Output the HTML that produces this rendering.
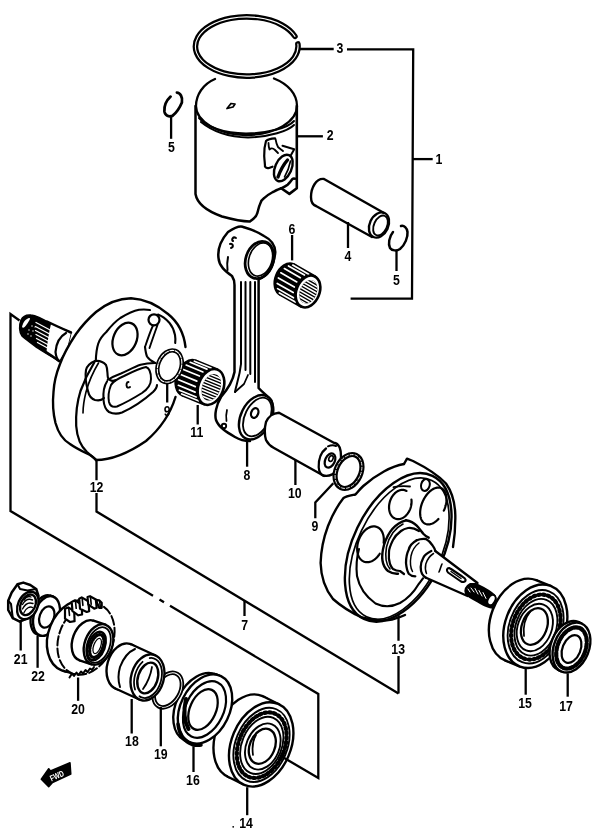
<!DOCTYPE html>
<html><head><meta charset="utf-8"><style>
html,body{margin:0;padding:0;background:#fff;width:600px;height:836px;overflow:hidden}
svg{display:block}
text{font-family:"Liberation Sans",sans-serif;font-weight:bold;font-size:15px;fill:#000}
</style></head><body>
<svg width="600" height="836" viewBox="0 0 600 836">
<g id="crankL" fill="none" stroke="#000" stroke-width="2.25" stroke-linecap="round" stroke-linejoin="round">
<!-- shaft -->
<path d="M21 320C23 316 27 314.5 31 315C37 315.5 43 319 50 323.5C56 326 62 329 71 332.5L67 349L59 361C52 357 45 353 37.5 348C33 344 26 340 22 336C19 332 19 325 21 320Z" fill="#000" stroke-width="1.50"/>
<path d="M36 322.5L52 331M35.5 326.5L52 335.3M35.5 330.5L51 338.7M36 334.5L50 342M36.5 338.5L49 345.2M37.5 342.5L47.5 348" stroke="#fff" stroke-width="1.3"/>
<path d="M51 324C56 326 62 329 71 332.5L67 349L59 361C53 357 49 354.5 46.5 353C47 345 49 332 51 324Z" fill="#fff" stroke="none"/>
<path d="M47 321.5C53 324.5 62 328.5 71 332.5M46 352C51 355 55 358 59 361" stroke-width="2.50"/>
<path d="M66 333C59 337 56 345 55.5 352C56 357 57 359 59 361" stroke-width="2.25"/>
<path d="M22 327C23 322 26 318.5 29.5 318C31 318 29 321 27 324C25 327 23 329 22 327Z" fill="#fff" stroke="none"/>

<g fill="#fff" stroke="none">
<circle cx="29" cy="330" r="0.7"/><circle cx="32" cy="326" r="0.7"/><circle cx="28" cy="334" r="0.7"/><circle cx="33" cy="331" r="0.7"/><circle cx="31" cy="336" r="0.7"/><circle cx="35" cy="327" r="0.6"/>
</g>
<!-- disk outer -->
<path d="M185.5 347C184 334 178 322 168 314C156 304 144 299 131 298.3C118 298.5 106 304 96 312C88 319 81 327 76 334C70 343 64 353 60 364C56 374 54 382 53.5 392C52.5 402 53 413 55.5 423C58 432 63 440 70 444C77 449 84 452 90 455C93 457 95 458.5 96 460" stroke-width="2.38"/>
<path d="M96 460C112 460 130 452 146 441C160 429 170 415 175.5 397" stroke-width="2.38"/>
<path d="M94.5 362C89 371 84.5 380 80.5 391C77 402 75.7 414 76.2 426C77 437 80.5 446 87 452C90.5 455 94 458 96 460" stroke-width="2.25"/>
<path d="M98.5 363C93 372 89 381 86 392C84 400 83 407 83 413" stroke-width="1.62"/>
<!-- web boundary -->
<path d="M95.8 361C96 354 96.5 349 98.2 343.7C100 338 103 335 106.3 332C111 326 116 321 120.3 318C127 314 133 311 139 309.8C143 309.3 147 309.5 150 310" stroke-width="2.12"/>
<path d="M158 314.5C162 316 166 319 169.3 322.7C172 326 174 330 175 335C175.5 338 175.5 341 175.2 343" stroke-width="2.12"/>
<ellipse cx="125" cy="339" rx="11.6" ry="17" transform="rotate(23 125 339)" stroke-width="2.25"/>
<circle cx="154" cy="319.8" r="5.5" stroke-width="2.25"/>
<path d="M153 325.5C150 332 148 338 145 347M157.5 325C155 332 152.5 339 149.5 348" stroke-width="1.88"/>
<path d="M145 347C145.5 351 146 354 147 356.5C149 359.5 152 361.5 155.2 363" stroke-width="2.1"/>
<!-- left blob -->
<path d="M95 361C99 360.5 103 361.5 106 365C108 369 107 374 108 378C110 381 112 382 116 380" stroke-width="2.12"/>
<path d="M95 361C90 363 87 366 86 370C85 376 86 384 88 391C89 396 92 399 95 400C99 401 102 400 104 398" stroke-width="2.12"/>
<!-- slot -->
<path d="M107 381.5C104 386 103 393 103.5 400C104 406 106 410 109 412C113 414 118 414 122 412.5C132 408 143 401 153 392C156 389 157 387 157 385" stroke-width="2.12"/>
<path d="M107.5 380C112 377 117 375 121 373.5C128 370.5 134 367 140.5 364.8C145 363.5 149 363 155 363" stroke-width="2.00"/>
<path d="M111 385C109 390 108 397 109 402C110 406 113 407.5 117 406.5C125 403 134 398 142 393C148 389 151 385 151 379C151 373 149 368 146 367C140 368 132 372 124 376C117 379 113 381 111 385Z" stroke-width="2.00"/>
<path d="M128.5 382C126.5 382 126 385 127 387C128 388 129.5 387.5 130 387" stroke-width="1.88"/>
</g>
<g id="top" fill="none" stroke="#000" stroke-width="2.25" stroke-linecap="round" stroke-linejoin="round">
<!-- ring 3 -->
<path d="M294.96 36.38A51.3 29.6 0 1 0 297.85 43.92" stroke-width="5.6"/>
<path d="M294.96 36.38A51.3 29.6 0 1 0 297.85 43.92" stroke="#fff" stroke-width="1.1"/>
<!-- circlip 5 left -->
<path d="M170.6 96.6C167 100 164 106 164.4 111.4C165 116 169 117 172.4 115.9C176 113 180 107 181.9 102.4C183 97 180 92.6 176.9 92.6" stroke-width="2.75"/>
<!-- piston 2 -->
<path d="M215 79C203 84 196 95 196 106C196 121 218 135 246 135C276 135 297 121 297 106C297 94 288 84 274 78.5"/>
<path d="M199 118C208 128 226 133 246 133.5C268 133 288 128 294 121" stroke-width="2.00"/>
<path d="M201 122C212 131 228 137 248 137.5C270 137 288 131 294 125" stroke-width="2.00"/>
<path d="M195.5 106V194C197 203 204 210 222 216.5C233 219.5 243 221.5 250 221.4C254 219 256.5 216 257.3 213.1C258.5 209 259 206 260.1 204C261 201 262 199.5 263.8 198.4C267 195.5 270 193.5 272.9 192C276 190.5 279 189 281.2 188.3C284 187 286 186 287.6 184.7C289.5 183 291 181 292.2 179.2C293 178.5 294 178.5 295 178.7" stroke-width="2.5"/>
<path d="M296.8 106V188.3L289.4 193.9L281.2 188.3" stroke-width="2.6"/>
<path d="M227 108.5L231 103.5L235 104L233 107Z" stroke-width="1.75"/>
<!-- pin boss -->
<path d="M275 138.3C271 138.5 268 139 266 141C264.5 146 264 151 264.2 156C264.5 161 265 164 265 166.7C266 168 267.5 168.5 269 168L272.5 166.7" stroke-width="2.2"/>
<path d="M268.5 143C268.5 146 269 148 269.5 149.5C271 148 273 148 275 150L278 153M275.5 139C276 142 277 145 278 147C280 149 282 150 283 151" stroke-width="1.8"/>
<path d="M282.5 145.8L294.2 149.2L291 155" stroke-width="2"/>
<ellipse cx="283.3" cy="168" rx="8.2" ry="14" transform="rotate(24 283.3 168)" fill="#fff" stroke-width="2.4"/>
<path d="M287.5 160C284 164 280.5 170 278 177" stroke-width="3.4"/>
<path d="M290.5 161C289.5 166 287.5 172 284.5 177" stroke-width="1.6"/>
<!-- pin 4 -->
<path d="M324 179L384 213M316 206L372 237M324 179C316 178 311 188 311 197C311 202 313 205 316 206" stroke-width="2.38"/>
<ellipse cx="379" cy="225" rx="9.3" ry="13.2" transform="rotate(25 379 225)" stroke-width="2.38"/>
<ellipse cx="380.5" cy="225.5" rx="6.5" ry="10.5" transform="rotate(25 380.5 225.5)" stroke-width="1.88"/>
<!-- circlip 5 right -->
<path d="M393 232C389 237 388 244 390 248C392 251 397 251 400 249C405 245 408 237 407.5 232C407 228 404 225 401 226" stroke-width="2.50"/>
</g>
<g id="rod" fill="none" stroke="#000" stroke-width="2.38" stroke-linecap="round" stroke-linejoin="round">
<!-- conrod 8 -->
<path d="M259 279C268 276 274 266 275.3 252C275 244 270 239 264 236C258 232 250 229 244 227.3C240 225 234 228 228 232C221 240 217.5 250 218.5 258C219 266 225 271 232 276C234 279 234.5 282 234.5 285V372C233 380 227 390 221 397C216 405 214.5 415 216 420C219 428 228 433 235 437C240 440 245 441 250 441" stroke-width="2.50"/>
<path d="M258.6 279V388C262 392 268 396 271 400C273 405 273 410 272.5 413" stroke-width="2.50"/>
<ellipse cx="259.5" cy="260" rx="13.8" ry="19" transform="rotate(18 259.5 260)" stroke-width="2.75"/>
<ellipse cx="260.5" cy="259.5" rx="11.5" ry="17" transform="rotate(18 260.5 259.5)" stroke-width="1.62"/>
<path d="M236 238C233 236 231 240 233 241M230 244C233 243 234 247 231 248" stroke-width="2.00"/>
<path d="M228 257C227 262 227 266 227.5 270" stroke-width="2.00"/>
<path d="M241 282V364C239.5 378 236 385 235 392M245.5 282V370M250.3 282V374M255 282V382" stroke-width="2.00"/>
<path d="M235 392L244 384L248 375" stroke-width="1.75"/>
<ellipse cx="256.1" cy="417.3" rx="15.2" ry="23.6" transform="rotate(26.5 256.1 417.3)" fill="#fff" stroke-width="2.4"/>
<ellipse cx="257.3" cy="417" rx="12.3" ry="20.6" transform="rotate(26.5 257.3 417)" stroke-width="1.8"/>
<ellipse cx="254.7" cy="413" rx="3.5" ry="5" transform="rotate(20 254.7 413)" stroke-width="2.25"/>
<circle cx="224" cy="426" r="2.2" stroke-width="1.88"/>
<path d="M227 410C226 414 226 418 226.5 421" stroke-width="1.75"/>
</g>
<g id="nb" fill="none" stroke="#000" stroke-linecap="round" stroke-linejoin="round">
<ellipse cx="287.00" cy="279.50" rx="11.50" ry="16.50" transform="rotate(22.00 287.00 279.50)" fill="#000" stroke-width="2.6"/>
<path d="M300.83 306.32L315.17 276.68L294.17 264.68L279.83 294.32Z" fill="#000" stroke="#000" stroke-width="2.6"/>
<path d="M295.32 302.02L279.36 292.90M293.55 297.74L277.59 288.62M293.21 292.53L277.25 283.41M294.34 287.03L278.38 277.91M296.81 281.89L280.85 272.77M300.32 277.73L284.36 268.61M304.45 275.05L288.49 265.93M308.70 274.17L292.74 265.05" stroke="#fff" stroke-width="1.7" stroke-linecap="round"/>
<ellipse cx="308.00" cy="291.50" rx="11.50" ry="16.50" transform="rotate(22.00 308.00 291.50)" fill="#fff" stroke-width="2.6"/>
<clipPath id="clip308291"><ellipse cx="308.30" cy="291.80" rx="8.51" ry="12.21" transform="rotate(22.00 308.30 291.80)" /></clipPath>
<ellipse cx="308.30" cy="291.80" rx="8.51" ry="12.21" transform="rotate(22.00 308.30 291.80)" fill="#000" stroke="none"/>
<path clip-path="url(#clip308291)" d="M324.28 324.31L272.18 294.54M325.71 321.79L273.62 292.02M327.15 319.27L275.06 289.51M328.59 316.76L276.50 286.99M330.03 314.24L277.94 284.47M331.47 311.72L279.38 281.95M332.91 309.20L280.81 279.43M334.35 306.68L282.25 276.92M335.79 304.17L283.69 274.40M337.22 301.65L285.13 271.88M338.66 299.13L286.57 269.36M340.10 296.61L288.01 266.84M341.54 294.09L289.45 264.33M342.98 291.58L290.89 261.81M344.42 289.06L292.32 259.29" stroke="#fff" stroke-width="1.53"/>
<ellipse cx="189.00" cy="378.00" rx="12.50" ry="18.50" transform="rotate(20.00 189.00 378.00)" fill="#000" stroke-width="2.6"/>
<path d="M204.35 404.26L217.65 369.74L195.65 360.74L182.35 395.26Z" fill="#000" stroke="#000" stroke-width="2.6"/>
<path d="M198.40 400.80L181.68 393.96M196.15 397.01L179.43 390.17M195.09 392.14L178.37 385.30M195.31 386.66L178.59 379.82M196.81 381.12L180.09 374.28M199.43 376.03L182.71 369.19M202.92 371.92L186.20 365.08M206.94 369.16L190.22 362.32M211.10 368.04L194.38 361.20" stroke="#fff" stroke-width="1.7" stroke-linecap="round"/>
<ellipse cx="211.00" cy="387.00" rx="12.50" ry="18.50" transform="rotate(20.00 211.00 387.00)" fill="#fff" stroke-width="2.6"/>
<clipPath id="clip211387"><ellipse cx="211.30" cy="387.30" rx="9.25" ry="13.69" transform="rotate(20.00 211.30 387.30)" /></clipPath>
<ellipse cx="211.30" cy="387.30" rx="9.25" ry="13.69" transform="rotate(20.00 211.30 387.30)" fill="#000" stroke="none"/>
<path clip-path="url(#clip211387)" d="M231.38 417.45L175.85 394.73M232.48 414.76L176.95 392.05M233.58 412.08L178.04 389.36M234.67 409.40L179.14 386.68M235.77 406.71L180.24 383.99M236.87 404.03L181.34 381.31M237.97 401.34L182.44 378.63M239.07 398.66L183.53 375.94M240.16 395.97L184.63 373.26M241.26 393.29L185.73 370.57M242.36 390.61L186.83 367.89M243.46 387.92L187.93 365.20M244.56 385.24L189.02 362.52M245.65 382.55L190.12 359.84M246.75 379.87L191.22 357.15" stroke="#fff" stroke-width="1.53"/>
</g>
<g id="crankR" fill="none" stroke="#000" stroke-width="2.25" stroke-linecap="round" stroke-linejoin="round">
<!-- outer -->
<path d="M404 464C392 466 376 474.5 363.3 486C359 490 357 493 355.3 494.5C350 495.5 346 496 343.5 498C338 505 333 513 328 526C323.5 538 321 550 320.6 563C321 577 325 589 333 599C342 607 352 613 362 617.5C372 620.5 382 621.5 392 619.5C398 618 402 616.5 405 615" stroke-width="2.38"/>
<path d="M404 464L407 458.7L413 461C425 467 438 475 446 483.5C452 492 455 503 455.3 515C455.5 527 454.5 538 453 547" stroke-width="2.38"/>
<!-- face double -->
<ellipse cx="398.2" cy="547.4" rx="45.3" ry="79.3" transform="rotate(25.6 398.2 547.4)" stroke-width="2.4"/>
<ellipse cx="399.2" cy="548.6" rx="41.8" ry="75.6" transform="rotate(25.6 399.2 548.6)" stroke-width="1.7"/>
<!-- recess -->
<path d="M359 549C356.5 558 356 567 357 576C359 586 365 596 375.5 603.5C383 607 392 607 400 603C408 598.5 414 592 418.7 584C421 581 423 578.5 424.2 576.7" stroke-width="2.12"/>
<path d="M393.5 487.2C399 486 405 486 410 486.5" stroke-width="1.88"/>
<!-- holes -->
<path d="M411.44 499.53L411.51 500.26L411.56 501.00L411.57 501.75L411.55 502.50L411.50 503.27L411.42 504.03L411.31 504.80L411.17 505.56L411.00 506.33L410.80 507.09L410.57 507.84L410.31 508.58L410.03 509.31L409.72 510.03L409.38 510.73L409.02 511.42L408.64 512.08L408.23 512.73L407.80 513.35L407.35 513.95L406.88 514.52L406.39 515.07L405.89 515.59L405.37 516.07L404.83 516.53L404.29 516.95L403.73 517.33L403.16 517.69L402.59 518.00L402.01 518.28L401.42 518.52L400.83 518.73L400.24 518.89L399.65 519.01L399.07 519.10L398.48 519.14L397.90 519.15L397.33 519.11L396.76 519.04L396.21 518.92L395.66 518.77L395.13 518.57L394.62 518.34L394.12 518.07L393.63 517.76L393.16 517.42L392.72 517.04L392.29 516.62L391.89 516.18L391.51 515.70L391.15 515.19L390.82 514.65L390.51 514.08L390.23 513.49L389.98 512.87L389.76 512.23L389.57 511.57L389.40 510.88L389.27 510.19L389.16 509.47L389.09 508.74L389.04 508.00L389.03 507.25L389.05 506.50L389.10 505.73L389.18 504.97L389.29 504.20L389.43 503.44L389.60 502.67L389.80 501.91L390.03 501.16L390.29 500.42L390.57 499.69L390.88 498.97L391.22 498.27L391.58 497.58L391.96 496.92L392.37 496.27L392.80 495.65L393.25 495.05L393.72 494.48L394.21 493.93L394.71 493.41L395.23 492.93L395.77 492.47L396.31 492.05L396.87 491.67L397.44 491.31L398.01 491.00L398.59 490.72L399.18 490.48L399.77 490.27L400.36 490.11L400.95 489.99L401.53 489.90L402.12 489.86L402.70 489.85L403.27 489.89L403.84 489.96L404.39 490.08L404.94 490.23L405.47 490.43L405.98 490.66L406.48 490.93" stroke-width="2.2"/>
<path d="M438.43 518.96L437.79 519.63L437.14 520.26L436.47 520.85L435.80 521.40L435.12 521.90L434.44 522.37L433.75 522.79L433.06 523.16L432.37 523.49L431.68 523.77L431.00 524.00L430.33 524.18L429.66 524.31L429.00 524.39L428.36 524.42L427.73 524.40L427.11 524.33L426.51 524.21L425.93 524.03L425.37 523.81L424.83 523.54L424.31 523.23L423.82 522.86L423.36 522.45L422.92 522.00L422.51 521.50L422.13 520.95L421.78 520.37L421.46 519.75L421.18 519.09L420.93 518.39L420.71 517.66L420.52 516.90L420.38 516.11L420.26 515.29L420.19 514.44L420.14 513.58L420.14 512.69L420.17 511.78L420.24 510.86L420.34 509.92L420.48 508.97L420.65 508.02L420.86 507.06L421.10 506.09L421.37 505.13L421.68 504.17L422.02 503.21L422.39 502.26L422.79 501.32L423.22 500.40L423.68 499.49L424.16 498.59L424.67 497.72L425.20 496.87L425.76 496.05L426.33 495.25L426.93 494.48L427.54 493.74L428.17 493.04L428.81 492.37L429.46 491.74L430.13 491.15L430.80 490.60L431.48 490.10L432.16 489.63L432.85 489.21L433.54 488.84L434.23 488.51L434.92 488.23L435.60 488.00L436.27 487.82L436.94 487.69L437.60 487.61L438.24 487.58L438.87 487.60L439.49 487.67L440.09 487.79L440.67 487.97L441.23 488.19L441.77 488.46L442.29 488.77L442.78 489.14L443.24 489.55L443.68 490.00L444.09 490.50L444.47 491.05L444.82 491.63L445.14 492.25L445.42 492.91L445.67 493.61L445.89 494.34L446.08 495.10L446.22 495.89L446.34 496.71L446.41 497.56L446.46 498.42L446.46 499.31L446.43 500.22L446.36 501.14L446.26 502.08L446.12 503.03L445.95 503.98L445.74 504.94L445.50 505.91L445.23 506.87L444.92 507.83L444.58 508.79L444.21 509.74L443.81 510.68" stroke-width="2.2"/>
<path d="M379.72 553.74L379.20 554.52L378.66 555.28L378.09 556.00L377.51 556.69L376.91 557.35L376.28 557.98L375.65 558.56L375.00 559.11L374.33 559.62L373.66 560.08L372.97 560.50L372.29 560.88L371.59 561.21L370.89 561.49L370.19 561.73L369.50 561.92L368.80 562.06L368.11 562.15L367.43 562.20L366.75 562.19L366.09 562.14L365.44 562.04L364.80 561.88L364.17 561.68L363.57 561.44L362.98 561.14L362.41 560.80L361.87 560.42L361.35 559.99L360.85 559.51L360.38 559.00L359.94 558.44L359.53 557.85L359.15 557.22L358.80 556.55L358.48 555.85L358.19 555.12L357.94 554.36L357.72 553.57L357.54 552.76L357.39 551.92L357.28 551.06L357.20 550.18L357.16 549.29L357.16 548.38L357.20 547.47L357.27 546.54L357.37 545.61L357.52 544.67L357.69 543.73L357.91 542.80L358.16 541.87L358.44 540.94L358.75 540.02L359.10 539.12L359.48 538.23L359.89 537.36L360.33 536.50L360.79 535.67L361.28 534.86L361.80 534.08L362.34 533.32L362.91 532.60L363.49 531.91L364.09 531.25L364.72 530.62L365.35 530.04L366.00 529.49L366.67 528.98L367.34 528.52L368.03 528.10L368.71 527.72L369.41 527.39L370.11 527.11L370.81 526.87L371.50 526.68L372.20 526.54L372.89 526.45L373.57 526.40L374.25 526.41L374.91 526.46L375.56 526.56L376.20 526.72L376.83 526.92L377.43 527.16L378.02 527.46L378.59 527.80L379.13 528.18L379.65 528.61L380.15 529.09L380.62 529.60L381.06 530.16L381.47 530.75L381.85 531.38L382.20 532.05L382.52 532.75L382.81 533.48L383.06 534.24L383.28 535.03L383.46 535.84L383.61 536.68L383.72 537.54L383.80 538.42L383.84 539.31L383.84 540.22L383.80 541.13L383.73 542.06L383.63 542.99" stroke-width="2.2"/>
<ellipse cx="425.4" cy="485" rx="4.3" ry="6" transform="rotate(15 425.4 485)" stroke-width="2.00"/>
<!-- boss -->
<path d="M406 520.3L416.7 525.7L428.7 537.7L435.3 551L477.5 583L493 596L490 607L467.5 596L426 577.7L415.3 576.3L398 573.7L390 572L383 565L382 548L390 531Z" fill="#fff" stroke="none"/>
<path d="M406 520.3C396 523 388 532 384 545C381 556 382 566 388 571C392 573.5 395 574 398 573.7" stroke-width="2.4"/>
<path d="M403 524C395 528 389 537 386.5 547C385 556 385.5 564 390 569" stroke-width="1.6"/>
<path d="M406 520.3C410 521 414 523 416.7 525.7C419 528 421 531 423.3 533.7C425 535.5 427 537 428.7 537.7" stroke-width="2.4"/>
<path d="M419 531C415 528.5 411 527.5 408 528C405 528.5 403 529.5 401 531C397 534 394.5 537 393 540C390.5 545 389 549 389 552C388.5 557 389 561 390 564C391 566.5 392 568 393 569C395.5 570.5 398 571 400 571L404 574" stroke-width="2.2"/>
<path d="M416.7 540.3C412 543 409.5 546 408.7 549.7C406.5 554 406 558 406 563C406.5 568 407 571 408.7 573.7C410.5 575.5 413 576.3 415.3 576.3" stroke-width="2.3"/>
<path d="M419 543C415 546 412 551 411 556C410 562 410.5 568 412.5 571.5" stroke-width="1.5"/>
<path d="M416.7 540.3C419 539.3 423 538.6 426 539C429 540.5 431 543 432.7 545.7C434 547.5 435 549.5 435.3 551" stroke-width="2.3"/>
<path d="M431.3 551C427 553 424.5 555 423.3 557.7C421.5 561 420.7 564 420.7 567C420.7 570 421 572 422 573.7C423 575.5 424.5 577 426 577.7" stroke-width="2.3"/>
<path d="M433.5 553.5C429.5 556 427 560 425.8 564C425 568 425.3 571 426.5 573.5" stroke-width="1.5"/>
<!-- shaft -->
<path d="M435.3 551L477.5 583M426 577.7L467.5 596" stroke-width="2.3"/>
<path d="M439 572C440 570 441 566 442 564" stroke-width="1.62"/>
<path d="M449 568C447 568 446 570.5 448 572.5L461 581.5C463 582.5 466 582 465.5 579.5C465 578 463 577 461.5 576L451 569Z" stroke-width="2.12"/>
<path d="M451 571.5L461 578.5" stroke-width="1.38"/>
<!-- thread -->
<path d="M470 584C466 586 464 590 466 594C469 597 475 600 480 603C485 606 490 608.5 494 607.5C497 605 497 598 494 595C489 590 480 586 476 584Z" fill="#000" stroke-width="1.88"/>
<g stroke="#fff" stroke-width="1" stroke-linecap="round"><path d="M471 588L474 592M475 588.5L478 594M479 590.5L482 596M483 592.5L486 598.5M468 589L470 592"/></g>
<ellipse cx="491.5" cy="600" rx="3.5" ry="5.5" transform="rotate(28 491.5 600)" fill="#fff" stroke-width="1.88"/>
</g>
<g id="mid" fill="none" stroke="#000" stroke-width="2.38" stroke-linecap="round" stroke-linejoin="round">
<!-- washer 9 left -->
<ellipse cx="169.6" cy="366.3" rx="11.6" ry="16.4" transform="rotate(20 169.6 366.3)" fill="#fff" stroke-width="4.4"/>
<ellipse cx="169.6" cy="366.3" rx="11.6" ry="16.4" transform="rotate(20 169.6 366.3)" stroke="#fff" stroke-width="1.1" stroke-dasharray="4 1.5"/>
<!-- crank pin 10 -->
<path d="M279 412.7C273 413 268 417 266 422C264.5 428 264.5 435 266 440C268 444 271 446.5 274 448L323.3 475.5C329 477 336 474 339.5 467C341.5 461 341.5 452 339.7 447.5C338 444 336 443 333.8 442.8Z" fill="#fff" stroke-width="2.38"/>
<path d="M326 448.5C320 453 318.5 460 318.7 467.3C319 472 321 475 324 476" stroke-width="2.25"/>
<path d="M328 446.3C331 445 334 445 336 446" stroke-width="2.00"/>
<ellipse cx="330" cy="460.5" rx="4.8" ry="7.5" transform="rotate(25 330 460.5)" stroke-width="2.25"/>
<ellipse cx="331" cy="458.5" rx="2" ry="3" transform="rotate(25 331 458.5)" stroke-width="1.62"/>
<!-- washer 9 right -->
<ellipse cx="348.5" cy="471.5" rx="12.3" ry="17.8" transform="rotate(25 348.5 471.5)" fill="#fff" stroke-width="5.2"/>
<ellipse cx="348.5" cy="471.5" rx="12.3" ry="17.8" transform="rotate(25 348.5 471.5)" stroke="#fff" stroke-width="0.8" stroke-dasharray="3 2"/>
</g>
<g id="low" fill="none" stroke="#000" stroke-width="2.25" stroke-linecap="round" stroke-linejoin="round">
<!-- bearing 14 -->
<ellipse cx="245.69" cy="736.59" rx="29.67" ry="43.90" transform="rotate(22.70 245.69 736.59)" fill="#fff" stroke-width="2.40"/>
<path d="M242.93 784.28L279.45 704.50L263.95 696.70L227.43 776.48Z" fill="#fff" stroke="none"/>
<path d="M242.93 784.28L227.43 776.48M279.45 704.50L263.95 696.70" stroke-width="2.40"/>
<ellipse cx="261.19" cy="744.39" rx="29.67" ry="43.90" transform="rotate(22.70 261.19 744.39)" fill="#fff" stroke-width="2.40"/>
<ellipse cx="261.49" cy="744.89" rx="25.81" ry="38.63" transform="rotate(22.70 261.49 744.89)" stroke-width="1.88"/>
<ellipse cx="261.69" cy="745.19" rx="22.85" ry="34.24" transform="rotate(22.70 261.69 745.19)" stroke-width="4.20" stroke-dasharray="1.6 3.2"/>
<ellipse cx="261.79" cy="745.39" rx="19.88" ry="29.85" transform="rotate(22.70 261.79 745.39)" stroke-width="1.88"/>
<ellipse cx="262.80" cy="746.50" rx="16.50" ry="24.00" transform="rotate(22.70 262.80 746.50)" fill="#fff" stroke-width="1.88"/>
<ellipse cx="262.30" cy="746.30" rx="12.50" ry="18.30" transform="rotate(22.70 262.30 746.30)" fill="#fff" stroke-width="2.31"/>
<path d="M256 735C253 740 252 748 253 755" stroke-width="1.75"/>
<!-- bearing 15 -->
<ellipse cx="520.91" cy="620.37" rx="30.09" ry="43.08" transform="rotate(20.77 520.91 620.37)" fill="#fff" stroke-width="2.40"/>
<path d="M519.50 666.34L551.12 586.20L536.72 580.30L505.10 660.44Z" fill="#fff" stroke="none"/>
<path d="M519.50 666.34L505.10 660.44M551.12 586.20L536.72 580.30" stroke-width="2.40"/>
<ellipse cx="535.31" cy="626.27" rx="30.09" ry="43.08" transform="rotate(20.77 535.31 626.27)" fill="#fff" stroke-width="2.40"/>
<ellipse cx="535.61" cy="626.77" rx="26.18" ry="37.91" transform="rotate(20.77 535.61 626.77)" stroke-width="1.88"/>
<ellipse cx="535.81" cy="627.07" rx="23.17" ry="33.60" transform="rotate(20.77 535.81 627.07)" stroke-width="4.20" stroke-dasharray="1.6 3.2"/>
<ellipse cx="535.91" cy="627.27" rx="20.16" ry="29.29" transform="rotate(20.77 535.91 627.27)" stroke-width="1.88"/>
<ellipse cx="534.80" cy="627.50" rx="17.00" ry="24.50" transform="rotate(20.77 534.80 627.50)" fill="#fff" stroke-width="1.88"/>
<ellipse cx="534.40" cy="626.50" rx="12.50" ry="19.00" transform="rotate(20.77 534.40 626.50)" fill="#fff" stroke-width="2.31"/>
<path d="M530 612C525 618 523 627 524 636" stroke-width="1.75"/>
<!-- seal 17 -->
<ellipse cx="568.50" cy="646.00" rx="17.50" ry="26.00" transform="rotate(22.00 568.50 646.00)" fill="#fff" stroke-width="2.38"/>
<path d="M560.90 671.22L582.10 623.78L579.10 622.28L557.90 669.72Z" fill="#fff" stroke="none"/>
<path d="M560.90 671.22L557.90 669.72M582.10 623.78L579.10 622.28" stroke-width="2.38"/>
<ellipse cx="571.50" cy="647.50" rx="17.50" ry="26.00" transform="rotate(22.00 571.50 647.50)" fill="#fff" stroke-width="2.38"/>
<ellipse cx="571.50" cy="648.00" rx="14.00" ry="21.50" transform="rotate(22.00 571.50 648.00)" stroke-width="4.25" stroke-dasharray="4 2"/>
<ellipse cx="571.50" cy="649.00" rx="9.00" ry="14.50" transform="rotate(22.00 571.50 649.00)" fill="#fff" stroke-width="2.25"/>
<!-- seal 16 -->
<ellipse cx="200.50" cy="707.50" rx="24.50" ry="36.50" transform="rotate(26.00 200.50 707.50)" fill="#fff" stroke-width="2.38"/>
<path d="M190.98 742.62L219.02 675.38L214.52 673.88L186.48 741.12Z" fill="#fff" stroke="none"/>
<path d="M190.98 742.62L186.48 741.12M219.02 675.38L214.52 673.88" stroke-width="2.38"/>
<ellipse cx="205.00" cy="709.00" rx="24.50" ry="36.50" transform="rotate(26.00 205.00 709.00)" fill="#fff" stroke-width="2.38"/>
<ellipse cx="204.50" cy="709.50" rx="19.00" ry="30.00" transform="rotate(26.00 204.50 709.50)" stroke-width="2.19"/>
<path d="M186 699C183.5 710 184 721 188.5 729" stroke-width="4.00"/>
<path d="M178 724C179 734 184 741 192 744.5C196 745.5 199 745.5 201 745" stroke-width="3.50"/>
<ellipse cx="203.00" cy="709.50" rx="13.00" ry="21.50" transform="rotate(24.00 203.00 709.50)" fill="#fff" stroke-width="2.25"/>
<!-- circlip 19 -->
<ellipse cx="167.80" cy="690.10" rx="12.30" ry="18.60" transform="rotate(30.00 167.80 690.10)" stroke-width="4.50"/>
<ellipse cx="167.80" cy="690.10" rx="12.30" ry="18.60" transform="rotate(30.00 167.80 690.10)" stroke="#fff" stroke-width="0.9"/>
<!-- spacer 18 -->
<ellipse cx="123.50" cy="666.50" rx="16.30" ry="23.50" transform="rotate(16.00 123.50 666.50)" fill="#fff" stroke-width="2.38"/>
<path d="M139.39 699.48L155.61 655.52L131.61 644.52L115.39 688.48Z" fill="#fff" stroke="none"/>
<path d="M139.39 699.48L115.39 688.48M155.61 655.52L131.61 644.52" stroke-width="2.38"/>
<ellipse cx="147.50" cy="677.50" rx="16.30" ry="23.50" transform="rotate(16.00 147.50 677.50)" fill="#fff" stroke-width="2.38"/>
<path d="M135 649C128 652 123 659 120 667C118 674 118 681 120 687" stroke-width="2.00"/>
<ellipse cx="148.00" cy="678.00" rx="13.30" ry="20.50" transform="rotate(16.00 148.00 678.00)" stroke-width="1.75" stroke-dasharray="30 8"/>
<ellipse cx="147.80" cy="678.00" rx="9.80" ry="15.80" transform="rotate(18.00 147.80 678.00)" fill="#fff" stroke-width="2.38"/>
<path d="M152 667C151 673 148 682 143 689" stroke-width="1.75"/>
<!-- washer 22 -->
<ellipse cx="44.00" cy="615.20" rx="12.50" ry="20.50" transform="rotate(18.00 44.00 615.20)" fill="#fff" stroke-width="2.38"/>
<path d="M40.19 635.50L52.81 596.50L50.31 595.70L37.69 634.70Z" fill="#fff" stroke="none"/>
<path d="M40.19 635.50L37.69 634.70M52.81 596.50L50.31 595.70" stroke-width="2.38"/>
<ellipse cx="46.50" cy="616.00" rx="12.50" ry="20.50" transform="rotate(18.00 46.50 616.00)" fill="#fff" stroke-width="2.38"/>
<ellipse cx="46.80" cy="617.00" rx="7.20" ry="11.00" transform="rotate(20.00 46.80 617.00)" stroke-width="2.25"/>
<!-- nut 21 -->
<path d="M17.5 584.3L23.3 582.6L30.3 585L36.2 589L38.5 596L37.3 605.3L33.8 612.3L28 618.2L19.8 621.7L12.8 618.2L8.2 610L8.2 600.7L11.7 592.5Z" fill="#fff" stroke-width="2.50"/>
<path d="M17.5 584.3L20 589L27.5 590.5L36.2 589M8.2 600.7L11 604L12.8 618.2M27.5 590.5L31 594" stroke-width="2.00"/>
<ellipse cx="27.80" cy="605.50" rx="9.80" ry="14.50" transform="rotate(25.00 27.80 605.50)" fill="#fff" stroke-width="2.38"/>
<ellipse cx="28.00" cy="604.80" rx="7.20" ry="10.80" transform="rotate(25.00 28.00 604.80)" fill="#fff" stroke-width="2.38"/>
<path d="M24 600C26 597 29 596 31 597M22.5 604.5C25 600 29 598.5 32.5 600M22.5 609C25 604 29 602 33 603.5M24 612.5C26 608 30 606 32.5 607.5" stroke-width="1.38"/>
</g>
<g id="gear" fill="none" stroke="#000" stroke-width="2.25" stroke-linecap="round" stroke-linejoin="round">
<ellipse cx="75.50" cy="636.00" rx="27.00" ry="37.00" transform="rotate(22.00 75.50 636.00)" fill="#fff" stroke-width="2.38"/>
<path d="M74.10 673.98L97.90 604.02L87.40 601.02L63.60 670.98Z" fill="#fff" stroke="none"/>
<path d="M74.10 673.98L63.60 670.98M97.90 604.02L87.40 601.02" stroke-width="2.38"/>
<ellipse cx="86.00" cy="639.00" rx="27.00" ry="37.00" transform="rotate(22.00 86.00 639.00)" fill="#fff" stroke-width="2.00" stroke-dasharray="9 3"/>
<path d="M65.0 608.7L68.3 607.4L74.2 611.2L74.6 621.2L70.0 622.0L65.0 618.7Z" fill="#fff" stroke-width="2.19"/>
<path d="M68.8 608.6L69.5 615.4" stroke-width="1.62"/>
<path d="M71.7 602.0L75.0 600.3L81.7 604.5L82.1 614.5L78.3 615.3L72.5 611.2Z" fill="#fff" stroke-width="2.19"/>
<path d="M75.5 601.5L76.2 608.3" stroke-width="1.62"/>
<path d="M79.2 598.7L81.7 597.4L88.3 601.2L89.2 611.2L86.7 612.0L80.0 608.7Z" fill="#fff" stroke-width="2.19"/>
<path d="M82.2 598.6L82.9 605.4" stroke-width="1.62"/>
<path d="M87.5 597.0L90.0 596.2L95.8 599.5L96.7 607.8L94.2 608.7L88.3 604.5Z" fill="#fff" stroke-width="2.19"/>
<path d="M90.5 597.4L91.2 604.2" stroke-width="1.62"/>
<path d="M95.8 599.9L99.2 600.3L101.7 602.8L101.7 607.8L99.2 607.8Z" fill="#fff" stroke-width="2.19"/>
<path d="M99.7 601.5L100.4 608.3" stroke-width="1.62"/>
<path d="M69.5 677.5L72 673.5L74 676L76.5 672.5L78.5 675L81 671.5L83 673.5L85.5 670L87.5 672L90 668.5L92 670L94 667" stroke-width="2.00"/>
<ellipse cx="86.50" cy="640.50" rx="13.80" ry="21.00" transform="rotate(20.00 86.50 640.50)" fill="#fff" stroke-width="2.38"/>
<path d="M91.54 664.31L105.46 624.69L93.46 620.69L79.54 660.31Z" fill="#fff" stroke="none"/>
<path d="M91.54 664.31L79.54 660.31M105.46 624.69L93.46 620.69" stroke-width="2.38"/>
<ellipse cx="98.50" cy="644.50" rx="13.80" ry="21.00" transform="rotate(20.00 98.50 644.50)" fill="#fff" stroke-width="2.38"/>
<ellipse cx="98.50" cy="645.00" rx="11.20" ry="18.50" transform="rotate(20.00 98.50 645.00)" stroke-width="1.75"/>
<ellipse cx="96.50" cy="646.00" rx="8.30" ry="14.80" transform="rotate(20.00 96.50 646.00)" fill="#fff" stroke-width="2.50"/>
<ellipse cx="96.80" cy="646.00" rx="6.20" ry="12.00" transform="rotate(20.00 96.80 646.00)" stroke-width="3.25" stroke-dasharray="1.4 1.6"/>
<ellipse cx="97.20" cy="646.00" rx="3.50" ry="8.00" transform="rotate(20.00 97.20 646.00)" fill="#fff" stroke-width="1.25"/>
</g>
<g id="fwd" style="filter:grayscale(1)">
<path d="M41.3 779.3L48.7 768.7L50.5 771L70 762.7L70.8 774L52.5 782.5L48.7 786.7Z" fill="#000" stroke="#000" stroke-width="1.50" stroke-linejoin="round"/>
<text x="0" y="0" transform="translate(58 778.5) rotate(-24) scale(0.75 1)" text-anchor="middle" style="font-size:8.5px;font-weight:bold;fill:#fff">FWD</text>
</g>
<g id="leaders" fill="none" stroke="#000" stroke-width="2.3" stroke-linecap="butt" stroke-linejoin="miter">
<path d="M300 49H333.7M347 49.3H413.2L412 298.6H350.6"/>
<path d="M297.5 136.3H322.9"/>
<path d="M412.8 159.1H432.7"/>
<path d="M171.1 116.8V138.8"/>
<path d="M348 222V248"/>
<path d="M396.5 250V271"/>
<path d="M292.1 235V260.4"/>
<path d="M167.2 383V402.5"/>
<path d="M197.7 405V424.5"/>
<path d="M247.1 440V466.7"/>
<path d="M295.4 460V485"/>
<path d="M333.3 483.3L315.3 502.5V518.3"/>
<path d="M96.5 459.7V480.3M96.5 493V511.5L398.5 693.5"/>
<path d="M19.5 320.5L10.5 314V511L153 595.7M159.5 599.6L164 602.3M170 605.8L318.3 694V778L280 755.5"/>
<path d="M244.5 601V616"/>
<path d="M398.5 614V640.8M398.5 656V693.5"/>
<path d="M525.7 668V694.7"/>
<path d="M567.7 673.3V696.7"/>
<path d="M20.7 620V650.5"/>
<path d="M37.6 636V667.8"/>
<path d="M78.1 677.5V700.8"/>
<path d="M131.7 699V733.5"/>
<path d="M160.8 707V746.3"/>
<path d="M193.5 746.3V772"/>
<path d="M247.2 787.2V815.2"/>
</g>
<circle cx="233.2" cy="826.8" r="0.9" fill="#000"/>
<g id="labels" text-anchor="middle" style="filter:grayscale(1)">
<text transform="translate(340 53) scale(0.82 1)">3</text>
<text transform="translate(330.2 140.4) scale(0.82 1)">2</text>
<text transform="translate(439 163.8) scale(0.82 1)">1</text>
<text transform="translate(171.5 151.8) scale(0.82 1)">5</text>
<text transform="translate(396.5 285) scale(0.82 1)">5</text>
<text transform="translate(347.8 261.2) scale(0.82 1)">4</text>
<text transform="translate(291.8 233.8) scale(0.82 1)">6</text>
<text transform="translate(167.2 415.5) scale(0.82 1)">9</text>
<text transform="translate(196.8 437.2) scale(0.82 1)">11</text>
<text transform="translate(247 480.3) scale(0.82 1)">8</text>
<text transform="translate(294.8 497.6) scale(0.82 1)">10</text>
<text transform="translate(315 530.8) scale(0.82 1)">9</text>
<text transform="translate(96.5 492) scale(0.82 1)">12</text>
<text transform="translate(244.7 629.5) scale(0.82 1)">7</text>
<text transform="translate(398.2 654) scale(0.82 1)">13</text>
<text transform="translate(525 708.2) scale(0.82 1)">15</text>
<text transform="translate(566 710.7) scale(0.82 1)">17</text>
<text transform="translate(20.7 664) scale(0.82 1)">21</text>
<text transform="translate(38 681.2) scale(0.82 1)">22</text>
<text transform="translate(78.1 714.2) scale(0.82 1)">20</text>
<text transform="translate(131.9 746.3) scale(0.82 1)">18</text>
<text transform="translate(160.8 759.2) scale(0.82 1)">19</text>
<text transform="translate(192.9 784.8) scale(0.82 1)">16</text>
<text transform="translate(246 828) scale(0.82 1)">14</text>
</g>
</svg>
</body></html>
